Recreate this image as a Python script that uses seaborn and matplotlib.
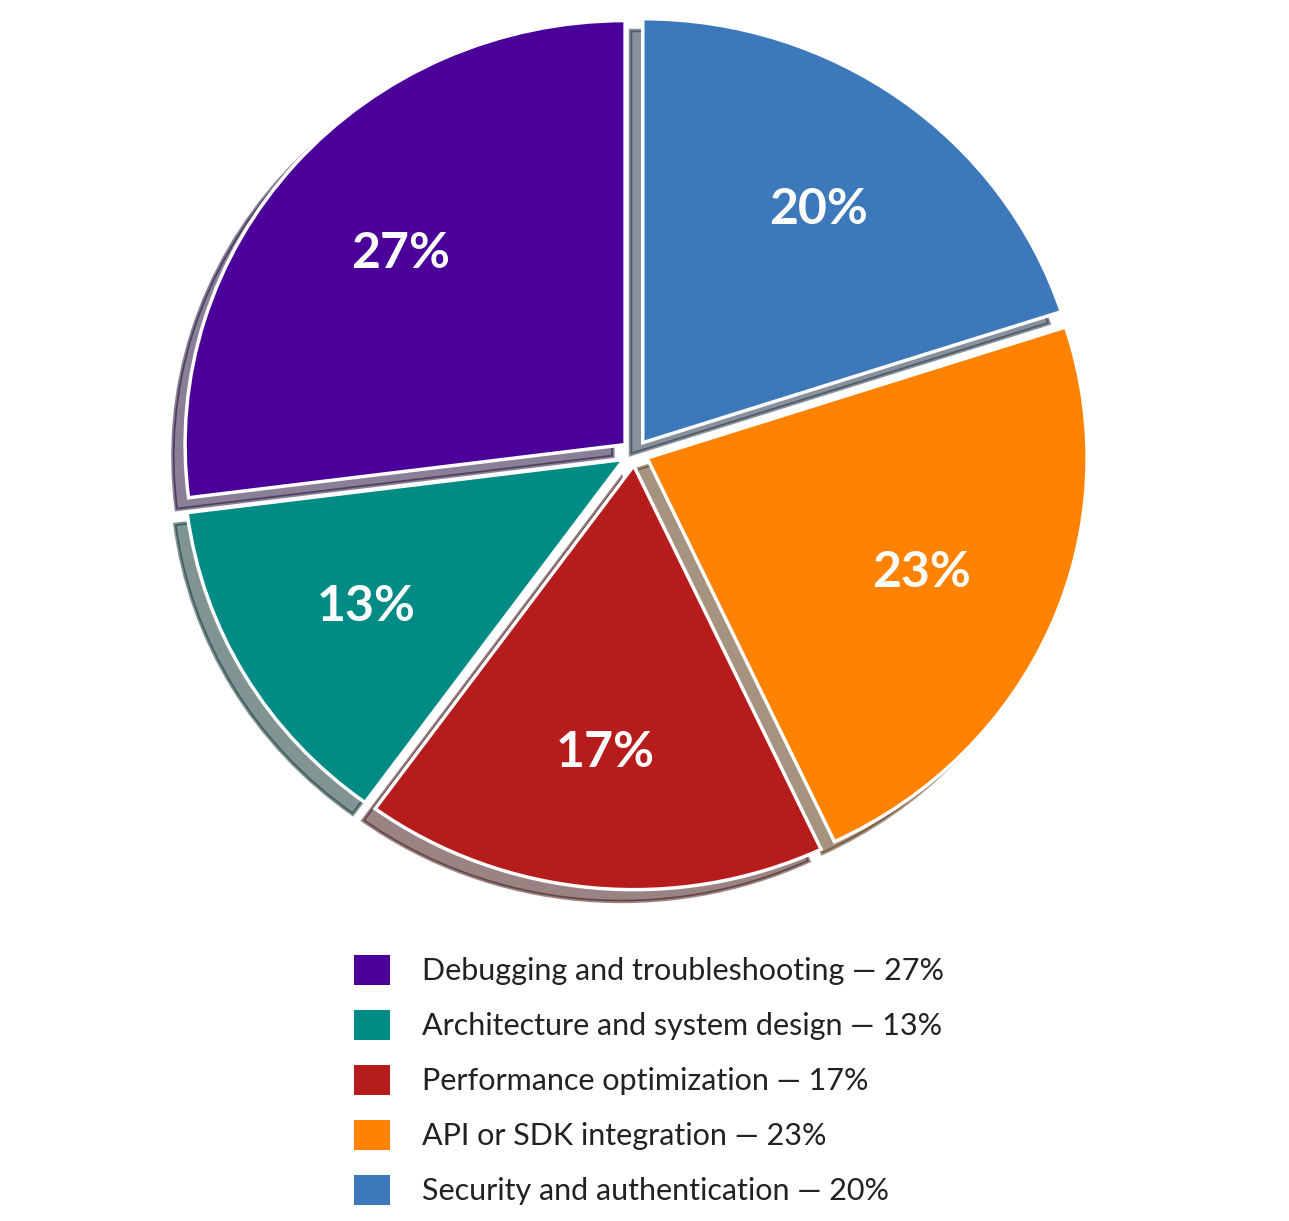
import matplotlib
matplotlib.use("Agg")
import matplotlib.pyplot as plt
import matplotlib.patches as mpatches
import seaborn as sns

# --- data ---
categories = ["Debugging and troubleshooting", "Architecture and system design",
              "Performance optimization", "API or SDK integration",
              "Security and authentication"]
shares = [27, 13, 17, 23, 20]
colors = ["#4A0099", "#008B84", "#B71C1C", "#FF8300", "#3D78BA"]

sns.set_theme(style="white")
plt.rcParams['font.family'] = ['Lato', 'DejaVu Sans']
palette = sns.color_palette(colors)

W, H = 1289, 1221
fig = plt.figure(figsize=(W / 100, H / 100), dpi=100)
fig.patch.set_facecolor("white")

# pixel geometry of the pie (slightly wider than tall, like the reference)
rx, ry = 440, 424
cx, cy = 635, 453
lim = 1.2
ax = fig.add_axes([(cx - lim * rx) / W, (H - cy - lim * ry) / H,
                   2 * lim * rx / W, 2 * lim * ry / H])

wedges, texts, autotexts = ax.pie(
    shares, colors=palette, startangle=90, counterclock=True,
    explode=[0.03] * len(shares), shadow=True,
    autopct=lambda p: f"{round(p):d}%", pctdistance=0.68,
    wedgeprops=dict(edgecolor="white", linewidth=2.5),
    textprops=dict(color="white", fontsize=36, fontweight="bold"))

ax.set_aspect("auto")
ax.set_xlim(-lim, lim)
ax.set_ylim(-lim, lim)
ax.axis("off")

handles = [mpatches.Patch(facecolor=c, edgecolor="none") for c in palette]
labels = [f"{c} \u2014 {v}%" for c, v in zip(categories, shares)]
fig.legend(handles, labels, loc="center", bbox_to_anchor=(0.5035, 0.1155),
           frameon=False, fontsize=22, handlelength=1.15, handleheight=1.15,
           handletextpad=1.05, labelspacing=0.8, labelcolor="#222222")

fig.savefig("out.png", dpi=100, facecolor="white")
